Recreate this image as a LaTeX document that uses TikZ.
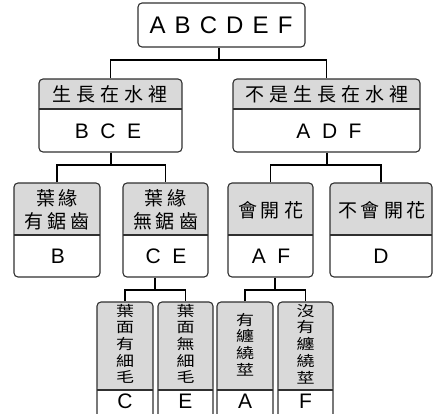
\documentclass[tikz,border=0pt]{standalone}
\usepackage{fontspec}
\usepackage{graphicx}
\setmainfont{Liberation Sans}
\newfontfamily\cjk{Noto Sans CJK TC}
\usetikzlibrary{calc}
\definecolor{hdr}{HTML}{D9D9D9}
\definecolor{bord}{HTML}{303030}
\newcommand\lsp{\hspace{0.38em}}
\newcommand\msp{\hspace{0.55em}}
\newcommand\csp{\hspace{5pt}}
\newcommand\dsp{\hspace{4pt}}
\tikzset{
  box/.style={draw=bord, line width=1.1pt, rounded corners=4pt, inner sep=0pt, fill=white},
  boxh/.style={box, path picture={
      \fill[hdr] (path picture bounding box.north west) rectangle ([yshift=-#1]path picture bounding box.north east);
      \draw[bord, line width=1.1pt] ([yshift=-#1]path picture bounding box.north west) -- ([yshift=-#1]path picture bounding box.north east);}},
  conn/.style={draw=black, line width=1.6pt},
  big/.style={font=\fontsize{24}{24}\selectfont, inner sep=0pt},
  let/.style={font=\fontsize{21}{21}\selectfont, inner sep=0pt},
  hz/.style={font=\cjk\fontsize{19}{23}\selectfont, inner sep=0pt, align=center},
  vt/.style={inner sep=0pt},
}
\begin{document}
\begin{tikzpicture}[x=1pt,y=-1pt]
\useasboundingbox (0,0) rectangle (433,413);
\clip (0,0) rectangle (433,413);
% boxes
\node[box, minimum width=167pt, minimum height=44pt] (top) at (221.5,25) {};
\node[boxh=30pt, minimum width=143pt, minimum height=73pt] (L) at (110.5,115.5) {};
\node[boxh=30pt, minimum width=187pt, minimum height=73pt] (R) at (326.5,115.5) {};
\node[boxh=52pt, minimum width=86pt, minimum height=94pt] (B) at (57,230) {};
\node[boxh=52pt, minimum width=85pt, minimum height=94pt] (CE) at (165.5,230) {};
\node[boxh=52pt, minimum width=85pt, minimum height=94pt] (AF) at (270.5,230) {};
\node[boxh=52pt, minimum width=102pt, minimum height=94pt] (D) at (381,230) {};
\node[boxh=88pt, minimum width=56pt, minimum height=123pt] (C) at (125,363.5) {};
\node[boxh=88pt, minimum width=55pt, minimum height=123pt] (E) at (185.5,363.5) {};
\node[boxh=88pt, minimum width=56pt, minimum height=123pt] (A) at (245,363.5) {};
\node[boxh=88pt, minimum width=55pt, minimum height=123pt] (F) at (305.5,363.5) {};
% connectors
\coordinate (j0) at (219,60);
\coordinate (j1) at (111,165);
\coordinate (j2) at (327,165);
\coordinate (j3) at (155,290);
\coordinate (j4) at (275,290);
\draw[conn] (top.south -| j0) -- (j0);
\draw[conn] (L.north) |- (j0) -| (R.north);
\draw[conn] (L.south -| j1) -- (j1);
\draw[conn] (B.north) |- (j1) -| (CE.north);
\draw[conn] (R.south -| j2) -- (j2);
\draw[conn] (AF.north) |- (j2) -| (D.north);
\draw[conn] (CE.south -| j3) -- (j3);
\draw[conn] (C.north) |- (j3) -| (E.north);
\draw[conn] (AF.south -| j4) -- (j4);
\draw[conn] (A.north) |- (j4) -| (F.north);
% texts
\node[big] (tTop) at (221,25) {A\lsp B\lsp C\lsp D\lsp E\lsp F};
\node[hz] (hL) at (110,94) {生\csp 長\csp 在\csp 水\csp 裡};
\node[let] (tL) at (108,131) {B\msp C\msp E};
\node[hz] (hR) at (327,94) {不\csp 是\csp 生\csp 長\csp 在\csp 水\csp 裡};
\node[let] (tR) at (329,131) {A\msp D\msp F};
\node[hz] (hB) at (57,210) {葉\dsp 緣\\有\dsp 鋸\dsp 齒};
\node[let] (tB) at (58,256) {B};
\node[hz] (hCE) at (165.5,210) {葉\dsp 緣\\無\dsp 鋸\dsp 齒};
\node[let] (tCE) at (166,256) {C\msp E};
\node[hz] (hAF) at (270.5,210) {會\dsp 開\dsp 花};
\node[let] (tAF) at (271,256) {A\msp F};
\node[hz] (hD) at (382,210) {不\dsp 會\dsp 開\dsp 花};
\node[let] (tD) at (381,256) {D};
\node[vt] (hC) at (125,346) {\scalebox{1}[0.8]{\cjk\fontsize{18}{19.5}\selectfont\begin{tabular}{@{}c@{}}葉\\面\\有\\細\\毛\end{tabular}}};
\node[vt] (hE) at (185.5,346) {\scalebox{1}[0.8]{\cjk\fontsize{18}{19.5}\selectfont\begin{tabular}{@{}c@{}}葉\\面\\無\\細\\毛\end{tabular}}};
\node[vt] (hA) at (245,346.5) {\scalebox{1}[0.8]{\cjk\fontsize{18}{19.5}\selectfont\begin{tabular}{@{}c@{}}有\\纏\\繞\\莖\end{tabular}}};
\node[vt] (hF) at (305.5,346) {\scalebox{1}[0.8]{\cjk\fontsize{18}{19.5}\selectfont\begin{tabular}{@{}c@{}}沒\\有\\纏\\繞\\莖\end{tabular}}};
\node[let] (tC) at (125,401) {C};
\node[let] (tE) at (185.5,401) {E};
\node[let] (tA) at (245,401) {A};
\node[let] (tF) at (305.5,401) {F};
\end{tikzpicture}
\end{document}
